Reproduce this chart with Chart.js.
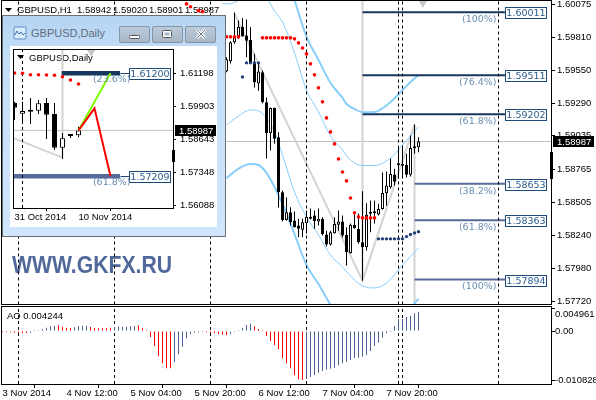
<!DOCTYPE html>
<html>
<head>
<meta charset="utf-8">
<script src="https://cdn.jsdelivr.net/npm/chart.js@4"></script>
<style>
html, body { margin: 0; padding: 0; background: #fff; overflow: hidden; }
canvas { position: absolute; display: block; }
#inset { background: #fff; }
#win { position: absolute; left: 2px; top: 15px; width: 222px; height: 220px; border: 1px solid #6b7075;
  background: linear-gradient(#b5d4f3, #c4def8 20%, #cfe6fc); }
#win .title { position: absolute; left: 28px; top: 11px; font: 11px "Liberation Sans"; color: #5f6c7a; }
#win .btn { position: absolute; top: 10px; width: 29px; height: 15px; border: 1px solid #8496a8; border-radius: 2px;
  background: linear-gradient(#bccbda, #a7b7c7); }
#win svg { position: absolute; }
</style>
</head>
<body>
<canvas id="main" width="596" height="305" style="left:0;top:0"></canvas>
<canvas id="ao" width="596" height="95" style="left:0;top:305px"></canvas>
<div id="win">
  <svg style="left:10px;top:10px" width="14" height="14"><rect x="1" y="1" width="12" height="12" rx="1" fill="#d9ecfb" stroke="#5f8fc0"/><path d="M2 9l2-4 2 3 2-2 2 3 2-2" fill="none" stroke="#3f6fa8"/></svg>
  <div class="title">GBPUSD,Daily</div>
  <div class="btn" style="left:116px"><svg style="left:9px;top:8px" width="12" height="5"><rect x=".5" y=".5" width="10" height="3" rx="1" fill="#fff" stroke="#555"/></svg></div>
  <div class="btn" style="left:149px"><svg style="left:9px;top:3px" width="11" height="9"><rect x=".5" y=".5" width="9" height="7" rx="1" fill="#fff" stroke="#555"/><rect x="2.5" y="2.5" width="5" height="3" fill="#a7b7c7"/></svg></div>
  <div class="btn" style="left:182px"><svg style="left:9px;top:2px" width="12" height="11"><path d="M2 1l8 8M10 1l-8 8" stroke="#fff" stroke-width="3"/><path d="M2 1l8 8M10 1l-8 8" stroke="#707a84" stroke-width="1"/></svg></div>
  <canvas id="inset" width="207" height="181" style="left:7px;top:30px"></canvas>
</div>
<script>
// H1 bars, index 56 is the first one that shows right of the small window
const firstBar = 56
const ohlc = [
  [1.59543,1.59654,1.59535,1.59638],[1.59622,1.59781,1.59604,1.59773],[1.59773,1.60008,1.59762,1.59812],
  [1.59812,1.59945,1.59800,1.59897],[1.59897,1.59966,1.59818,1.59818],[1.59826,1.59953,1.59654,1.59786],
  [1.59792,1.59892,1.59608,1.59614],[1.59614,1.59683,1.59414,1.59456],[1.59446,1.59612,1.59390,1.59541],
  [1.59535,1.59549,1.59291,1.59298],[1.59298,1.59335,1.58852,1.59052],[1.59052,1.59256,1.58915,1.59253],
  [1.59253,1.59256,1.58970,1.59008],[1.59020,1.59060,1.58464,1.58585],[1.58585,1.58598,1.58353,1.58366],
  [1.58366,1.58543,1.58361,1.58426],[1.58426,1.58466,1.58321,1.58347],[1.58361,1.58432,1.58305,1.58308],
  [1.58321,1.58376,1.58228,1.58297],[1.58289,1.58376,1.58228,1.58347],[1.58339,1.58440,1.58258,1.58392],
  [1.58392,1.58456,1.58369,1.58376],[1.58400,1.58440,1.58297,1.58355],[1.58353,1.58456,1.58321,1.58376],
  [1.58376,1.58387,1.58242,1.58255],[1.58250,1.58281,1.58155,1.58171],[1.58171,1.58281,1.58163,1.58268],
  [1.58260,1.58387,1.58258,1.58334],[1.58327,1.58440,1.58281,1.58353],[1.58353,1.58400,1.58226,1.58242],
  [1.58247,1.58308,1.58004,1.58110],[1.58102,1.58337,1.58099,1.58327],[1.58327,1.58416,1.58297,1.58300],
  [1.58295,1.58416,1.58178,1.58189],[1.58189,1.58593,1.57885,1.58149],[1.58149,1.58498,1.58123,1.58406],
  [1.58414,1.58519,1.58268,1.58418],[1.58418,1.58519,1.58337,1.58426],[1.58408,1.58495,1.58400,1.58453],
  [1.58453,1.58741,1.58448,1.58580],[1.58577,1.58749,1.58479,1.58638],[1.58624,1.58852,1.58614,1.58730],
  [1.58725,1.58772,1.58638,1.58669],[1.58799,1.58941,1.58693,1.58810],[1.58804,1.58939,1.58701,1.58796],
  [1.58802,1.58891,1.58701,1.58723],[1.58723,1.59034,1.58709,1.58936],[1.58938,1.59121,1.58891,1.58934],
  [1.58942,1.59020,1.58901,1.58987]
]
const headerValues = ['1.58942', '1.59020', '1.58901', '1.58987']
const lastPrice = 1.58987
const priceTicks = [1.60075,1.59810,1.59550,1.59290,1.59035,1.58765,1.58505,1.58240,1.57980,1.57720]
const daySeparators = [4, 28, 52, 76, 99, 100, 124]

// band curves, [bar index, price]
const bandUpperOuter = [[73,1.60108],[76,1.59817],[79,1.59633],[82,1.59451],[85,1.59332],[86,1.59284],[88,1.59245],[90,1.59218],[93,1.59221],[97,1.59300],[101,1.59427],[104,1.59514]]
const bandLowerOuter = [[56,1.58696],[59,1.58773],[62,1.58809],[64,1.58801],[66,1.58738],[68,1.58627],[70,1.58492],[73,1.58254],[76,1.58009],[79,1.57858],[82,1.57692]]
const bandLowerOuterEnd = [[102,1.57668],[104,1.57740]]
const bandUpperInnerStart = [[55,1.60080],[57,1.60076],[59,1.60104]]
const bandUpperInner = [[66,1.60132],[68,1.60021],[70,1.59934],[73,1.59688],[76,1.59395],[79,1.59221],[82,1.59031],[85,1.58920],[87,1.58840],[90,1.58797],[93,1.58797],[97,1.58856],[100,1.58959],[104,1.59102]]
const bandLowerInner = [[56,1.59118],[59,1.59189],[62,1.59237],[64,1.59229],[66,1.59173],[68,1.59062],[70,1.58880],[73,1.58587],[76,1.58389],[79,1.58247],[82,1.58088],[85,1.57993],[88,1.57890],[90,1.57843],[93,1.57827],[96,1.57866],[100,1.58009],[104,1.58144]]

const redDots = [[46,1.60077],[47,1.60055],[49,1.60024],[50,1.60016],[56,1.59816],[57,1.59816],[58,1.59816],[59,1.59816],
  [65,1.59808],[66,1.59808],[67,1.59808],[68,1.59808],[69,1.59808],[70,1.59808],[71,1.59808],[72,1.59808],[73,1.59800],
  [74,1.59768],[75,1.59728],[76,1.59681],[77,1.59602],[78,1.59515],[79,1.59412],[80,1.59301],[81,1.59174],[82,1.59063],
  [83,1.58968],[84,1.58849],[85,1.58746],[86,1.58675],[87,1.58540],[88,1.58422],[89,1.58390],[90,1.58382],[91,1.58382],[92,1.58382],[93,1.58382]]
const navyDots = [[60,1.59499],[61,1.59610],[62,1.59610],[63,1.59610],[64,1.59610],[94,1.58216],[95,1.58216],[96,1.58216],[97,1.58216],[98,1.58216],[99,1.58216],[100,1.58216],[101,1.58234],[102,1.58250],[103,1.58263],[104,1.58273]]

const zigzag = [[58,1.60000],[90,1.57885],[103,1.59121]]
const fibUpper = [1.60011, 1.59511, 1.59202]
const fibUpperText = ['(100%)', '(76.4%)', '(61.8%)']
const fibLower = [1.58653, 1.58363, 1.57894]
const fibLowerText = ['(38.2%)', '(61.8%)', '(100%)']

// AO histogram, one value per bar from the first bar on the chart
const aoValues = [
  -.00029,-.00029,-.00029,-.00037,-.00044,-.00051,-.00051,-.00037,.00002,.00015,.00044,.00073,.00103,.00117,.00125,
  .00095,.00073,.00066,.00081,.0011,.00117,.00117,.00088,.00066,.00059,.00059,.00059,.00073,.00088,.00095,
  .00095,.00095,.00103,.0011,.00125,.00059,.00015,-.00132,-.0033,-.00557,-.00711,-.00821,-.00821,-.00682,-.00513,
  -.00345,-.00161,-.00066,-.00037,-.00029,-.00022,-.00029,-.00044,-.00051,-.00066,-.00081,-.00088,-.00059,-.00022,.00015,
  .00066,.00132,.00161,.00103,.00044,.00015,-.0011,-.0022,-.00308,-.00403,-.00601,-.00711,-.00821,-.00975,-.01063,
  -.01078,-.01055,-.01012,-.00968,-.00916,-.0088,-.0085,-.00828,-.00806,-.00755,-.00711,-.00674,-.00638,-.00601,-.00586,
  -.00564,-.00528,-.0044,-.0033,-.00257,-.00147,-.00051,-.00007,.0011,.00257,.00264,.00308,.00337,.00389,.004244
]
const aoFallingRuns = [[0,6],[14,17],[22,27],[34,42],[51,56],[63,75]]
const aoTicks = [0.004961, 0, -0.010828]
const aoTickText = ['0.004961', '0.00', '-0.010828']
const timeTicks = [0, 16, 32, 48, 64, 80, 96]
const timeTickText = ['3 Nov 2014', '4 Nov 12:00', '5 Nov 04:00', '5 Nov 20:00', '6 Nov 12:00', '7 Nov 04:00', '7 Nov 20:00']

// daily chart in the small window
const dailyOhlc = [
  [1.60049,1.60099,1.59390,1.59867],[1.59634,1.60099,1.59274,1.59739],[1.59766,1.60242,1.59235,1.59712],
  [1.59750,1.60165,1.59622,1.60037],[1.60049,1.60242,1.58654,1.59595],[1.59622,1.60049,1.58227,1.58317],
  [1.58317,1.58886,1.57879,1.58681],[1.58847,1.58847,1.58693,1.58770],[1.58797,1.59130,1.58720,1.58987]
]
const dailyTicks = [1.61198, 1.59903, 1.58643, 1.57348, 1.56088]
const dailyTimeTicks = [0, 8]
const dailyTimeText = ['31 Oct 2014', '10 Nov 2014']
const dailyDots = [1.61212,1.61200,1.61146,1.61146,1.61134,1.61123,1.61068,1.60940,1.60785]
const dailyGreen = [[8,1.58987],[12,1.61200]]
const dailyRed = [[8,1.58987],[10,1.59843],[12,1.57209]]
const dailyZigzag = [[-1,1.58801],[6,1.57930]]
const dailyFibTop = 1.61200
const dailyFibBottom = 1.57209

const font = { family: '"Liberation Sans"', size: 9.5 }
const numFont = '9.5px "DejaVu Sans"'
const bandColor = '#87cefa'
const blueBar = '#4d629b'

function pts(list) { return list.map(function(p) { return { x: p[0], y: p[1] } }) }

function createLine(points, color, width, extra) {
    return Object.assign({ type: 'line', data: points, borderColor: color, borderWidth: width, pointRadius: 0, fill: false, order: 5 }, extra || {})
}

function createDots(points, color, radius) {
    return { type: 'line', data: points, showLine: false, pointRadius: radius, pointBorderWidth: 0, pointBackgroundColor: color, order: 1 }
}

function createVLine(i, lo, hi) {
    return createLine([{ x: i, y: lo }, { x: i, y: hi }], '#000', 1, { borderDash: [3, 3], order: 4 })
}

function createCandles(bars, start, bodyWidth) {
    var wicks = bars.map(function(b, k) { return { x: start + k, y: [b[2], b[1]] } })
    var bodies = bars.map(function(b, k) { return { x: start + k, y: [Math.min(b[0], b[3]), Math.max(b[0], b[3])] } })
    return [{
        data: wicks, backgroundColor: '#000', borderWidth: 0, barThickness: 1, grouped: false, inflateAmount: 0, order: 3
    }, {
        data: bodies, barThickness: bodyWidth, grouped: false, inflateAmount: 0, order: 2, minBarLength: 2,
        borderWidth: 1, borderColor: '#000', borderSkipped: false,
        backgroundColor: bars.map(function(b) { return b[3] >= b[0] ? '#fff' : '#000' })
    }]
}

function drawTriangle(c, x, y) {
    c.fillStyle = '#000'
    c.beginPath(); c.moveTo(x - 3.5, y - 2); c.lineTo(x + 3.5, y - 2); c.lineTo(x, y + 2); c.fill()
}

function drawFibTag(chart, level, text, endIdx, boxGap, textGap, textDown) {
    var c = chart.ctx
    var x = Math.round(chart.scales.x.getPixelForValue(endIdx) + boxGap) + .5
    var y = chart.scales.y.getPixelForValue(level)
    var top = Math.round(y - 5) + .5
    if (boxGap > 2) {
        c.strokeStyle = '#1f4a78'; c.lineWidth = 1
        c.beginPath(); c.moveTo(x - boxGap, Math.round(y) + .5); c.lineTo(x, Math.round(y) + .5); c.stroke()
    }
    c.fillStyle = '#fff'; c.fillRect(x, top, 41, 11)
    c.strokeStyle = '#1f4a78'; c.lineWidth = 1; c.strokeRect(x, top, 41, 11)
    c.fillStyle = '#2b5c8c'; c.font = numFont; c.textAlign = 'center'; c.textBaseline = 'middle'
    c.fillText(level.toFixed(5), x + 20.5, top + 6)
    c.fillStyle = '#6a8fb3'; c.textAlign = 'right'
    c.fillText(text, x - textGap, y + textDown)
}

function drawPriceBox(chart, price, left, width) {
    var c = chart.ctx, y = chart.scales.y.getPixelForValue(price)
    c.fillStyle = '#000'; c.fillRect(left, Math.round(y - 5.5), width, 11)
    c.fillStyle = '#fff'; c.font = '9.5px "Liberation Sans"'; c.textAlign = 'left'; c.textBaseline = 'middle'
    c.fillText(price.toFixed(5), left + 4, y + .5)
}

// the layout must not keep room for labels that hang over the panel edges
function noEdgePadding(s) { s.paddingTop = 0; s.paddingBottom = 0; s.paddingLeft = 0; s.paddingRight = 0 }

function createOptions(xMin, xMax, yMin, yMax, padding) {
    return {
        responsive: false, animation: false, events: [],
        layout: { padding: padding, autoPadding: false },
        plugins: { legend: { display: false }, tooltip: { enabled: false } },
        scales: {
            x: { type: 'linear', display: false, min: xMin, max: xMax, offset: false },
            y: {
                type: 'linear', position: 'right', min: yMin, max: yMax,
                afterBuildTicks: function(s) { s.ticks = [] },
                afterFit: function(s) { s.width = 44; noEdgePadding(s) },
                grid: { drawOnChartArea: false, tickLength: 3, tickColor: '#000' },
                border: { display: false },
                ticks: { autoSkip: false, color: '#000', padding: 2, font: font }
            }
        }
    }
}

function createMainChart() {
    var datasets = []
    datasets.push(createLine(pts(bandUpperOuter), bandColor, 2, { cubicInterpolationMode: 'monotone', order: 7 }))
    datasets.push(createLine(pts(bandLowerOuter), bandColor, 2, { cubicInterpolationMode: 'monotone', order: 7 }))
    datasets.push(createLine(pts(bandLowerOuterEnd), bandColor, 2, { order: 7 }))
    datasets.push(createLine(pts(bandUpperInnerStart), bandColor, 1, { order: 7 }))
    datasets.push(createLine(pts(bandUpperInner), bandColor, 1, { cubicInterpolationMode: 'monotone', order: 7 }))
    datasets.push(createLine(pts(bandLowerInner), bandColor, 1, { cubicInterpolationMode: 'monotone', order: 7 }))
    datasets.push(createLine(pts(zigzag), '#d3d3d3', 2, { order: 8 }))
    // vertical legs of the fib tool
    datasets.push(createLine([{ x: 90, y: 1.6010 }, { x: 90, y: zigzag[1][1] }], '#d3d3d3', 2, { order: 8 }))
    datasets.push(createLine([{ x: 103, y: zigzag[2][1] }, { x: 103, y: 1.57696 }], '#d3d3d3', 2, { order: 8 }))
    datasets.push(createLine([{ x: 0, y: lastPrice }, { x: 137.375, y: lastPrice }], '#c0c0c0', 1, { order: 9 }))
    daySeparators.forEach(function(d) { datasets.push(createVLine(d, 1.57696, 1.6010)) })
    fibUpper.forEach(function(l) { datasets.push(createLine([{ x: 90, y: l }, { x: 125.6, y: l }], '#17375e', 2, { order: 6 })) })
    fibLower.forEach(function(l) { datasets.push(createLine([{ x: 103, y: l }, { x: 125.6, y: l }], '#566a9b', 2, { order: 6 })) })
    datasets = datasets.concat(createCandles(ohlc, firstBar, 3))
    datasets.push(createDots(pts(redDots), '#ff0000', 1.8))
    datasets.push(createDots(pts(navyDots), '#1f3f77', 1.7))
    datasets.push({ type: 'line', data: [{ x: 105.1, y: 1.60085 }], showLine: false, pointStyle: 'triangle', rotation: 180, pointRadius: 5, pointBackgroundColor: '#c8c8c8', pointBorderWidth: 0, order: 8 })
    datasets.push({ data: [{ x: 137.25, y: [1.58690, 1.58904] }], backgroundColor: '#000', barThickness: 3, grouped: false, inflateAmount: 0, clip: false, order: 1 })

    var options = createOptions(-0.125, 137.375, 1.57696, 1.6010, { left: 2, top: 1, right: 0, bottom: 0.5 })
    options.scales.y.afterBuildTicks = function(s) { s.ticks = priceTicks.map(function(v) { return { value: v } }) }
    options.scales.y.ticks.callback = function(v) { return v.toFixed(5) }

    var plugin = {
        id: 'mainDecor',
        beforeDatasetsDraw: function(chart) {
            var c = chart.ctx
            c.save()
            c.fillStyle = '#50689a'; c.font = 'bold 23.5px "Liberation Sans"'; c.textAlign = 'left'; c.textBaseline = 'middle'
            c.fillText('WWW.GKFX.RU', 12, 267, 160)
            drawTriangle(c, 8.5, 10)
            c.fillStyle = '#000'; c.font = '9.5px "Liberation Sans"'
            c.fillText('GBPUSD,H1', 17, 10)
            headerValues.forEach(function(v, k) { c.fillText(v, 77 + 36 * k, 10) })
            c.restore()
        },
        afterDatasetsDraw: function(chart) {
            var c = chart.ctx
            c.save()
            c.strokeStyle = '#000'; c.lineWidth = 1; c.strokeRect(1.5, 0.5, 550, 304)
            fibUpper.forEach(function(l, k) { drawFibTag(chart, l, fibUpperText[k], 125.6, 0, 9, 7.5) })
            fibLower.forEach(function(l, k) { drawFibTag(chart, l, fibLowerText[k], 125.6, 0, 9, 7.5) })
            drawPriceBox(chart, lastPrice, 553, 41)
            c.restore()
        }
    }
    return new Chart(document.getElementById('main'), { type: 'bar', data: { datasets: datasets }, options: options, plugins: [plugin] })
}

function createAoChart() {
    var falling = function(i) { return aoFallingRuns.some(function(r) { return i >= r[0] && i <= r[1] }) }
    var datasets = daySeparators.map(function(d) { return createVLine(d, -0.01166, 0.0055) })
    datasets.push({
        data: aoValues.map(function(v, i) { return { x: i, y: v } }),
        backgroundColor: aoValues.map(function(v, i) { return falling(i) ? '#ff0000' : blueBar }),
        barThickness: 1, grouped: false, inflateAmount: 0, minBarLength: 1, order: 2
    })
    var options = createOptions(-0.125, 137.375, -0.01166, 0.0055, { left: 2, top: 1, right: 0, bottom: 0 })
    options.scales.y.afterBuildTicks = function(s) { s.ticks = aoTicks.map(function(v) { return { value: v } }) }
    // first label sits just under its tick, the way the platform keeps it inside the panel
    options.scales.y.ticks.callback = function(v, i) { return i == 0 ? ['', aoTickText[i]] : aoTickText[i] }
    options.scales.y.ticks.padding = 0
    options.scales.x = {
        type: 'linear', position: 'bottom', min: -0.125, max: 137.375, offset: false,
        afterBuildTicks: function(s) { s.ticks = timeTicks.map(function(v) { return { value: v } }) },
        afterFit: function(s) { s.height = 16; noEdgePadding(s) },
        grid: { drawOnChartArea: false, tickLength: 4, tickColor: '#000' },
        border: { display: false },
        ticks: { autoSkip: false, maxRotation: 0, align: 'start', padding: 0, color: '#000', font: font, callback: function(v, i) { return timeTickText[i] } }
    }
    var plugin = {
        id: 'aoDecor',
        afterDatasetsDraw: function(chart) {
            var c = chart.ctx
            c.save()
            c.strokeStyle = '#000'; c.lineWidth = 1; c.strokeRect(1.5, 1.5, 550, 78)
            c.fillStyle = '#000'; c.font = '9.5px "Liberation Sans"'; c.textAlign = 'left'; c.textBaseline = 'middle'
            c.fillText('AO 0.004244', 7, 11)
            c.restore()
        }
    }
    return new Chart(document.getElementById('ao'), { type: 'bar', data: { datasets: datasets }, options: options, plugins: [plugin] })
}

function createInsetChart() {
    var yMin = 1.55980, yMax = 1.62103
    var datasets = []
    datasets.push(createLine(pts(dailyZigzag), '#d3d3d3', 2, { order: 8 }))
    datasets.push(createLine([{ x: 6, y: yMax }, { x: 6, y: dailyZigzag[1][1] }], '#d3d3d3', 2, { order: 8 }))
    datasets.push(createLine([{ x: -1, y: lastPrice }, { x: 20, y: lastPrice }], '#c0c0c0', 1, { order: 9 }))
    datasets.push(createVLine(1, yMin, yMax))
    datasets.push(createLine([{ x: 5.9, y: dailyFibTop }, { x: 13.2, y: dailyFibTop }], '#17375e', 4.5, { order: 6 }))
    datasets.push(createLine([{ x: -1, y: dailyFibBottom }, { x: 13.2, y: dailyFibBottom }], '#566a9b', 4.5, { order: 6 }))
    datasets.push(createLine(pts(dailyGreen), '#7fff00', 2, { order: 1 }))
    datasets.push(createLine(pts(dailyRed), '#ff0000', 2, { order: 0 }))
    datasets = datasets.concat(createCandles(dailyOhlc, 0, 5))
    datasets.push(createDots(dailyDots.map(function(v, i) { return { x: i, y: v } }), '#ff0000', 1.8))
    datasets.push({ type: 'line', data: [{ x: 9.6, y: 1.62025 }], showLine: false, pointStyle: 'triangle', rotation: 180, pointRadius: 5, pointBackgroundColor: '#c8c8c8', pointBorderWidth: 0, order: 8 })
    datasets.push({ data: [{ x: 19.875, y: [1.57763, 1.58227] }], backgroundColor: '#000', barThickness: 3, grouped: false, inflateAmount: 0, clip: false, order: 1 })

    var options = createOptions(-0.0625, 19.8125, yMin, yMax, { left: 4, top: 4, right: 0, bottom: 0 })
    options.scales.y.afterBuildTicks = function(s) { s.ticks = dailyTicks.map(function(v) { return { value: v } }) }
    options.scales.y.ticks.callback = function(v) { return v.toFixed(5) }
    options.scales.y.ticks.padding = 4
    options.scales.x = {
        type: 'linear', position: 'bottom', min: -0.0625, max: 19.8125, offset: false,
        afterBuildTicks: function(s) { s.ticks = dailyTimeTicks.map(function(v) { return { value: v } }) },
        afterFit: function(s) { s.height = 19; noEdgePadding(s) },
        grid: { drawOnChartArea: false, tickLength: 3, tickColor: '#000' },
        border: { display: false },
        ticks: { autoSkip: false, maxRotation: 0, align: 'start', padding: 1, color: '#000', font: font, callback: function(v, i) { return dailyTimeText[i] } }
    }
    var plugin = {
        id: 'insetDecor',
        beforeDatasetsDraw: function(chart) {
            var c = chart.ctx
            c.save()
            drawTriangle(c, 10.5, 11)
            c.fillStyle = '#000'; c.font = '9.5px "Liberation Sans"'; c.textAlign = 'left'; c.textBaseline = 'middle'
            c.fillText('GBPUSD,Daily', 19, 12)
            c.restore()
        },
        afterDatasetsDraw: function(chart) {
            var c = chart.ctx
            c.save()
            c.strokeStyle = '#000'; c.lineWidth = 1; c.strokeRect(3.5, 3.5, 160, 159)
            drawFibTag(chart, dailyFibTop, '(23.6%)', 13.2, 9, -1, 6.7)
            drawFibTag(chart, dailyFibBottom, '(61.8%)', 13.2, 9, -1, 6.7)
            drawPriceBox(chart, lastPrice, 165, 41)
            c.restore()
        }
    }
    return new Chart(document.getElementById('inset'), { type: 'bar', data: { datasets: datasets }, options: options, plugins: [plugin] })
}

createMainChart()
createAoChart()
createInsetChart()
</script>
</body>
</html>
